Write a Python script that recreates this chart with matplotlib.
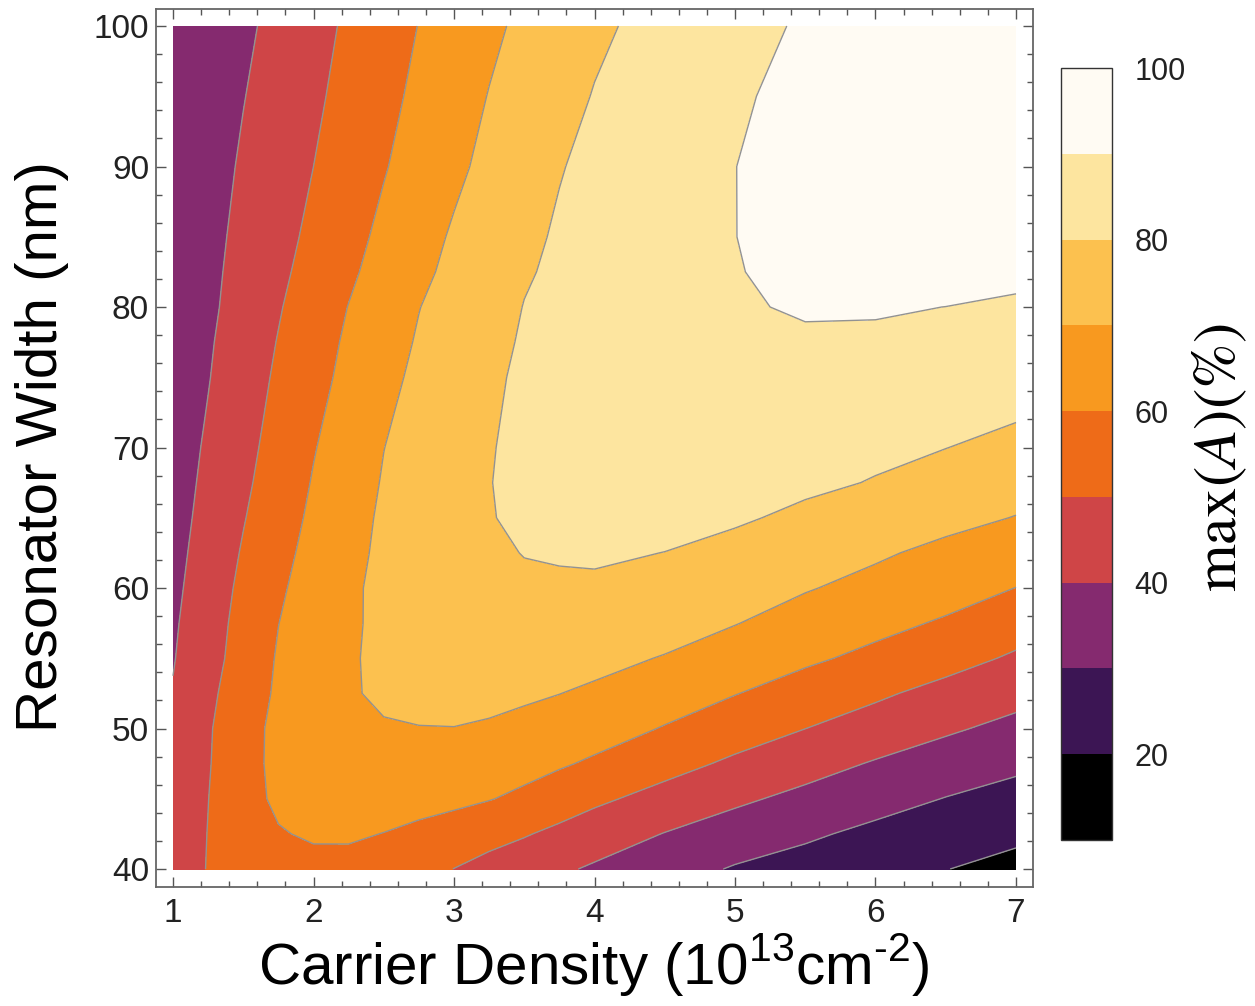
#!/usr/bin/env python3
import numpy as np
import matplotlib
matplotlib.use('Agg')
import matplotlib.pyplot as plt
from matplotlib.ticker import MultipleLocator

# carrier density (10^13 cm^-2), grid columns
density = [1, 1.25, 1.5, 1.75, 2, 2.25, 2.5, 2.75, 3, 3.25, 3.5, 3.75, 4,
           4.5, 5, 5.5, 6, 6.5, 7]
# resonator width (nm), grid rows
width = [40, 42.5, 45, 47.5, 50, 52.5, 55, 57.5, 60, 62.5, 65, 67.5, 70,
         75, 77.5, 80, 82.5, 85, 90, 95, 100]

# max absorption (%), one row per width
absorption = [
    [45.0, 50.4, 54.5, 56.5, 57.0, 56.8, 55.5, 53.0, 49.9, 47.0, 44.2, 41.4, 38.8, 34.0, 29.2, 26.2, 23.3, 20.2, 17.0],  # 40
    [44.5, 50.2, 55.0, 59.3, 61.2, 61.3, 59.8, 57.5, 55.3, 53.0, 50.7, 47.8, 44.9, 39.7, 35.4, 31.5, 27.7, 24.8, 22.0],  # 42.5
    [43.5, 49.9, 56.3, 61.8, 64.2, 65.0, 64.7, 63.8, 62.3, 60.4, 58.0, 55.0, 51.8, 46.6, 41.7, 37.5, 33.6, 29.7, 26.5],  # 45
    [42.5, 49.4, 56.4, 62.5, 65.5, 67.0, 67.5, 67.3, 66.4, 65.0, 63.2, 61.0, 58.7, 53.4, 48.3, 43.7, 39.2, 35.5, 32.0],  # 47.5
    [41.5, 49.1, 56.1, 62.5, 65.8, 68.0, 69.6, 69.85, 69.9, 69.3, 68.0, 66.2, 63.9, 59.5, 54.6, 50.05, 45.8, 41.3, 37.5],  # 50
    [40.5, 47.9, 55.3, 61.3, 65.0, 69.5, 70.8, 71.5, 71.8, 71.7, 71.1, 70.1, 68.6, 64.3, 60.3, 56.0, 51.5, 47.0, 43.0],  # 52.5
    [39.5, 46.5, 53.9, 60.8, 64.9, 69.4, 71.2, 72.5, 73.3, 73.7, 73.8, 73.4, 72.5, 69.5, 65.5, 61.5, 57.8, 53.5, 48.7],  # 55
    [38.8, 45.8, 53.1, 59.9, 64.5, 69.3, 71.0, 72.6, 74.0, 75.0, 75.8, 76.2, 76.0, 73.8, 70.3, 66.3, 62.5, 59.0, 54.3],  # 57.5
    [38.0, 44.8, 52.1, 58.7, 63.8, 68.7, 71.8, 73.7, 75.3, 76.8, 78.2, 79.0, 79.3, 78.7, 75.5, 70.6, 67.4, 63.7, 59.9],  # 60
    [37.2, 43.9, 50.8, 57.2, 62.9, 68.0, 71.4, 73.6, 75.9, 78.2, 80.3, 80.6, 80.6, 79.95, 77.6, 74.6, 71.2, 67.8, 64.7],  # 62.5
    [36.5, 42.9, 49.5, 55.8, 61.7, 67.0, 71.2, 74.0, 77.0, 79.6, 81.5, 81.6, 81.6, 81.4, 81.0, 78.4, 75.5, 72.6, 69.7],  # 65
    [36.0, 42.0, 48.3, 54.5, 60.6, 65.8, 70.6, 73.7, 76.7, 79.8, 81.8, 82.2, 82.4, 82.6, 82.3, 81.5, 79.6, 77.0, 73.8],  # 67.5
    [35.5, 41.2, 47.3, 53.4, 59.5, 64.8, 69.9, 73.2, 76.3, 79.5, 82.0, 82.6, 83.0, 83.5, 83.5, 83.1, 81.6, 80.1, 77.9],  # 70
    [34.5, 39.6, 45.5, 51.4, 57.0, 62.4, 67.6, 71.8, 75.1, 78.5, 81.5, 82.5, 83.3, 84.8, 85.8, 86.5, 86.3, 85.3, 83.8],  # 75
    [34.0, 39.0, 44.7, 50.4, 56.0, 61.4, 66.3, 70.8, 74.3, 77.8, 80.8, 82.1, 83.2, 85.5, 87.5, 88.9, 88.6, 87.6, 86.2],  # 77.5
    [33.5, 38.3, 43.6, 49.3, 54.8, 60.2, 65.0, 69.8, 73.4, 76.9, 80.2, 81.7, 83.1, 86.0, 89.2, 90.8, 90.8, 89.95, 88.5],  # 80
    [33.0, 37.9, 42.9, 48.1, 53.3, 58.5, 63.4, 68.1, 72.1, 75.7, 79.3, 81.3, 83.0, 86.2, 89.6, 92.3, 93.5, 94.0, 92.5],  # 82.5
    [32.5, 37.4, 42.3, 47.1, 52.0, 57.1, 62.0, 66.7, 71.0, 74.6, 78.3, 80.9, 82.8, 86.4, 89.9, 93.5, 96.0, 97.5, 98.0],  # 85
    [31.5, 36.3, 41.1, 45.5, 50.0, 54.7, 59.4, 63.9, 68.2, 72.2, 75.9, 79.6, 81.8, 85.9, 89.9, 94.0, 96.5, 98.0, 98.5],  # 90
    [31.0, 35.3, 39.7, 44.0, 48.4, 52.9, 57.5, 61.9, 66.1, 70.3, 73.8, 77.2, 80.4, 84.7, 88.9, 92.5, 95.0, 97.0, 98.0],  # 95
    [30.5, 34.4, 38.3, 42.5, 47.0, 51.4, 55.8, 60.2, 64.2, 68.2, 71.8, 75.1, 78.4, 83.1, 87.2, 91.0, 94.0, 96.0, 97.0],  # 100
]

levels = [10, 20, 30, 40, 50, 60, 70, 80, 90, 100]
band_colors = ['#000000', '#3c1554', '#852a6f', '#cf4547', '#ee6b18',
               '#f8991f', '#fcc14f', '#fde59f', '#fffbf3']
cbar_ticks = [20, 40, 60, 80, 100]


def draw():
    plt.rcParams['font.family'] = ['Liberation Sans', 'DejaVu Sans']
    plt.rcParams['mathtext.fontset'] = 'custom'
    plt.rcParams['mathtext.rm'] = 'Liberation Sans'

    W, H = 1255, 1006
    fig = plt.figure(figsize=(W / 100, H / 100), dpi=100, facecolor='white')
    ax = fig.add_axes([156 / W, (H - 887) / H, 877 / W, 878 / H])

    X, Y = np.meshgrid(density, width)
    Z = np.array(absorption)
    cs = ax.contourf(X, Y, Z, levels=levels, colors=band_colors)
    ax.contour(X, Y, Z, levels=levels[1:-1], colors='#929292', linewidths=1.0)

    ax.set_xlim(0.879, 7.121)
    ax.set_ylim(38.72, 101.21)
    ax.set_xticks([1, 2, 3, 4, 5, 6, 7])
    ax.set_yticks([40, 50, 60, 70, 80, 90, 100])
    ax.xaxis.set_minor_locator(MultipleLocator(0.2))
    ax.yaxis.set_minor_locator(MultipleLocator(2))
    ax.tick_params(which='both', direction='in', top=True, right=True,
                   color='#555555', width=1.0)
    ax.tick_params(which='major', length=7, labelsize=24, labelcolor='#222222')
    ax.tick_params(which='minor', length=4)
    ax.tick_params(axis='x', pad=8)
    ax.tick_params(axis='y', pad=5)
    for s in ax.spines.values():
        s.set_color('#666666')
        s.set_linewidth(1.3)

    fig.text(42 / W, 1 - 447 / H, 'Resonator Width (nm)', rotation=90,
             ha='center', va='center', fontsize=42)
    fig.text(594 / W, 1 - 965 / H,
             'Carrier Density (10$^{13}$cm$^{\u2010 2}$)',
             ha='center', va='center', fontsize=42)

    # Colorbar
    cax = fig.add_axes([1061 / W, (H - 840) / H, 51 / W, 772 / H])
    cb = fig.colorbar(cs, cax=cax, ticks=cbar_ticks)
    cb.outline.set_edgecolor('#333333')
    cb.outline.set_linewidth(1.0)
    cax.tick_params(length=0, labelsize=22, pad=16, labelcolor='#222222')
    fig.text(1220 / W, 1 - 458 / H, r'$\mathrm{max}(A)\mathrm{(\%)}$',
             rotation=90, ha='center', va='center', fontsize=44,
             math_fontfamily='stix')

    fig.savefig('out.png', dpi=100, facecolor=fig.get_facecolor())


if __name__ == '__main__':
    draw()
